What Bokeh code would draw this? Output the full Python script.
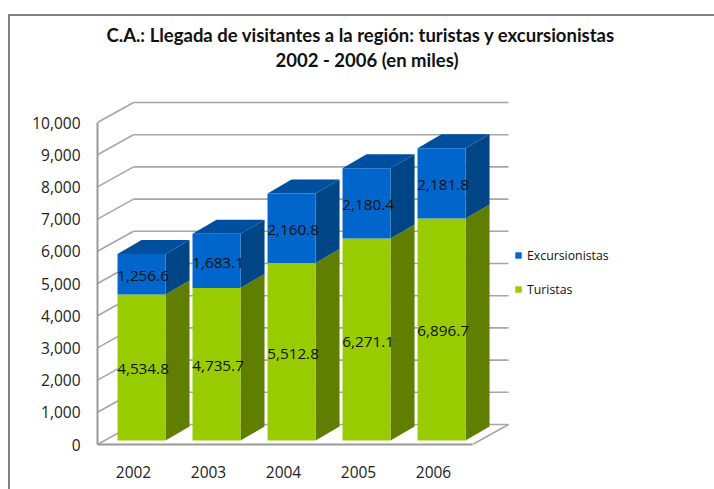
from bokeh.plotting import figure
from bokeh.models import (FixedTicker, Legend, LegendItem, LinearAxis,
                          NumeralTickFormatter, Title)
from bokeh.core.properties import value
from bokeh.embed import file_html
from bokeh.resources import INLINE

years = ["2002", "2003", "2004", "2005", "2006"]
turistas = [4534.8, 4735.7, 5512.8, 6271.1, 6896.7]
excursionistas = [1256.6, 1683.1, 2160.8, 2180.4, 2181.8]
y_ticks = [0, 1000, 2000, 3000, 4000, 5000, 6000, 7000, 8000, 9000, 10000]

FONT = "Open Sans"
GREEN, GREEN_SIDE = "#99CC00", "#607F00"
BLUE, BLUE_SIDE, BLUE_TOP = "#0066CC", "#004586", "#004F9E"
GRID = "#A6A6A6"

# pseudo-3D geometry, in data units
WALL_DX, WALL_DY = 0.48, 621
BAR_SHIFT, BAR_W, BAR_BASE = 0.107, 0.64, 124
SIDE_DX, SIDE_DY = 0.32, 435
N = len(years)

p = figure(width=704, height=473, output_backend="svg", toolbar_location=None,
           x_range=(-0.48, 7.493), y_range=(0, 11553),
           min_border_left=87, min_border_right=21, min_border_top=56,
           min_border_bottom=47, outline_line_color=None,
           background_fill_color="white", border_fill_color="white")
p.xaxis.visible = False
p.yaxis.visible = False
p.grid.visible = False

# outer frame of the chart area
p.styles = {"border-left": "2px solid #808080", "border-top": "2px solid #808080",
            "margin-left": "8px", "margin-top": "14px", "box-sizing": "content-box"}

# walls
gx0, gy0, gx1, gy1 = [], [], [], []
for t in y_ticks:
    gx0 += [-WALL_DX, 0]
    gy0 += [t, t + WALL_DY]
    gx1 += [0, N]
    gy1 += [t + WALL_DY, t + WALL_DY]
gx0.append(N - 1 + 0.52)
gy0.append(0)
gx1.append(N)
gy1.append(WALL_DY)
p.segment(gx0, gy0, gx1, gy1, line_color=GRID, line_width=1.6)

# bars
idx = list(range(N))
left = [i + BAR_SHIFT - BAR_W / 2 for i in idx]
right = [i + BAR_SHIFT + BAR_W / 2 for i in idx]
g_top = [BAR_BASE + t for t in turistas]
b_top = [g + e for g, e in zip(g_top, excursionistas)]
base = [BAR_BASE] * N

p.patches([[r, r + SIDE_DX, r + SIDE_DX, r] for r in right],
          [[b, b + SIDE_DY, t + SIDE_DY, t] for b, t in zip(base, g_top)],
          fill_color=GREEN_SIDE, line_color=None)
p.patches([[r, r + SIDE_DX, r + SIDE_DX, r] for r in right],
          [[b, b + SIDE_DY, t + SIDE_DY, t] for b, t in zip(g_top, b_top)],
          fill_color=BLUE_SIDE, line_color=None)
p.patches([[l, r, r + SIDE_DX, l + SIDE_DX] for l, r in zip(left, right)],
          [[t, t, t + SIDE_DY, t + SIDE_DY] for t in b_top],
          fill_color=BLUE_TOP, line_color=None)
r_t = p.quad(left=left, right=right, bottom=base, top=g_top,
             fill_color=GREEN, line_color=None)
r_e = p.quad(left=left, right=right, bottom=g_top, top=b_top,
             fill_color=BLUE, line_color=None)

# data labels
centers = [i + BAR_SHIFT for i in idx]
for mids, vals in (([(b + t) / 2 for b, t in zip(base, g_top)], turistas),
                   ([(b + t) / 2 for b, t in zip(g_top, b_top)], excursionistas)):
    p.text(centers, mids, text=[f"{v:,.1f}" for v in vals], text_align="center",
           text_baseline="middle", text_color="#111111",
           text_font=value(FONT), text_font_size="15.3px", x_offset=1.5, y_offset=2)

# axes
ya = LinearAxis(ticker=FixedTicker(ticks=y_ticks),
                formatter=NumeralTickFormatter(format="0,0"),
                bounds=(0, 10000), axis_line_color="#999999", axis_line_width=2,
                major_tick_line_color=None, minor_tick_line_color=None,
                major_label_standoff=11, major_label_text_font=FONT,
                major_label_text_font_size="15.5px", major_label_text_color="#222222")
p.add_layout(ya, "left")
xa = LinearAxis(ticker=FixedTicker(ticks=idx),
                major_label_overrides={i: y for i, y in zip(idx, years)},
                bounds=(-WALL_DX, N - 1 + 0.52), axis_line_color="#999999",
                axis_line_width=2, major_tick_line_color=None,
                minor_tick_line_color=None, major_label_standoff=15,
                major_label_text_font=FONT, major_label_text_font_size="15.5px",
                major_label_text_color="#222222")
p.add_layout(xa, "below")

# legend
legend = Legend(items=[LegendItem(label="Excursionistas", renderers=[r_e]),
                       LegendItem(label="Turistas", renderers=[r_t])],
                location=(417, 146), orientation="vertical", border_line_color=None,
                background_fill_alpha=0, padding=0, margin=0, spacing=16,
                glyph_width=8, glyph_height=8, label_height=18, label_standoff=5,
                label_text_font=FONT, label_text_font_size="12.3px",
                label_text_color="#111111")
p.add_layout(legend, "center")

# title
t2 = Title(text="2002 - 2006 (en miles)", text_font="Lato", text_font_size="18.5px",
           text_font_style="bold", text_color="#111111", align="left", offset=178,
           standoff=3)
t1 = Title(text="C.A.: Llegada de visitantes a la región: turistas y excursionistas",
           text_font="Lato", text_font_size="18.5px", text_font_style="bold",
           text_color="#111111", align="left", offset=9, standoff=0)
p.add_layout(t2, "above")
p.add_layout(t1, "above")
p.title = None

open("out.html", "w").write(file_html(p, INLINE))
